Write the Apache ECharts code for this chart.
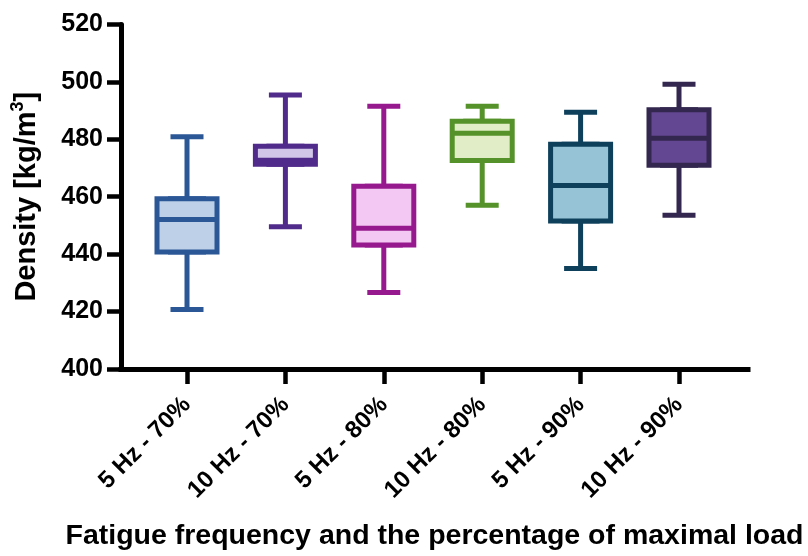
<!DOCTYPE html>
<html>
<head>
<meta charset="utf-8">
<script src="https://cdn.jsdelivr.net/npm/echarts@6/dist/echarts.min.js"></script>
<style>
  html, body { margin: 0; padding: 0; background: #fff; }
  #chart { width: 808px; height: 556px; }
</style>
</head>
<body>
<div id="chart"></div>
<script>
const categories = ["5 Hz - 70%", "10 Hz - 70%", "5 Hz - 80%", "10 Hz - 80%", "5 Hz - 90%", "10 Hz - 90%"];
const lowWhisker = [421, 449.7, 426.9, 457.2, 435.2, 453.7];
const q1 = [441, 471.4, 443.4, 472.7, 451.7, 471.1];
const median = [452.3, 472.8, 449.2, 482.2, 464.1, 480.5];
const q3 = [459.5, 477.7, 463.8, 486.4, 478.4, 490.4];
const highWhisker = [481, 495.5, 491.6, 491.6, 489.5, 499.2];
const yTicks = [400, 420, 440, 460, 480, 500, 520];

const strokeColors = ["#2b5796", "#512b8b", "#961a8e", "#55922a", "#0e405c", "#33274f"];
const fillColors = ["#bed0e8", "#d1c6e7", "#f3c8f2", "#e0edc6", "#96c4d6", "#644792"];

const font = "'Liberation Sans', Arial, Helvetica, sans-serif";

// narrow boxplot: whiskers + short caps
let whiskerData = categories.map((c, i) => ({
	value: [lowWhisker[i], q1[i], median[i], q3[i], highWhisker[i]],
	itemStyle: { color: fillColors[i], borderColor: strokeColors[i], borderWidth: 5 },
}));

// wide boxplot: the box itself, whiskers collapsed onto the box edges
let boxData = categories.map((c, i) => ({
	value: [q1[i], q1[i], median[i], q3[i], q3[i]],
	itemStyle: { color: fillColors[i], borderColor: strokeColors[i], borderWidth: 5 },
}));

let chart = echarts.init(document.getElementById("chart"), null, { renderer: "canvas" });

let catAxis = {
	gridIndex: 1,
	type: "category",
	data: categories,
	axisLine: { show: false },
	splitLine: { show: false },
};

let option = {
	animation: false,
	backgroundColor: "#fff",
	grid: [
		// frame with the axis lines
		{ left: 121, right: 60, top: 24.4, bottom: 186 },
		// boxes
		{ left: 137.8, right: 79.8, top: 24.4, bottom: 186 },
	],
	xAxis: [
		{
			gridIndex: 0,
			type: "value",
			min: 0,
			max: 1,
			axisLine: { show: true, lineStyle: { color: "#000", width: 5, cap: "square" } },
			axisTick: { show: false },
			axisLabel: { show: false },
			splitLine: { show: false },
			name: "Fatigue frequency and the percentage of maximal load",
			nameLocation: "middle",
			nameGap: 153,
			nameTextStyle: { fontFamily: font, fontWeight: "bold", fontSize: 28.5, color: "#000" },
		},
		Object.assign({}, catAxis, {
			axisTick: { show: true, alignWithLabel: true, length: 14, lineStyle: { color: "#000", width: 4.5 } },
			axisLabel: {
				rotate: 45,
				margin: 31,
				interval: 0,
				fontFamily: font,
				fontWeight: "bold",
				fontSize: 24,
				color: "#000",
			},
		}),
		Object.assign({}, catAxis, { show: false }),
	],
	yAxis: [
		{
			gridIndex: 0,
			type: "value",
			min: yTicks[0],
			max: yTicks[yTicks.length - 1],
			interval: 20,
			axisLine: { show: true, lineStyle: { color: "#000", width: 5 } },
			axisTick: { show: true, inside: false, length: 14, lineStyle: { color: "#000", width: 4.5 } },
			axisLabel: { margin: 18, fontFamily: font, fontWeight: "bold", fontSize: 25, color: "#000" },
			splitLine: { show: false },
			name: "Density [kg/m{sup|3}]",
			nameLocation: "middle",
			nameGap: 77,
			nameTextStyle: {
				fontFamily: font,
				fontWeight: "bold",
				fontSize: 29,
				color: "#000",
				rich: {
					sup: { fontFamily: font, fontWeight: "bold", fontSize: 18, color: "#000", verticalAlign: "top", lineHeight: 35 },
				},
			},
		},
		{
			gridIndex: 1,
			type: "value",
			min: yTicks[0],
			max: yTicks[yTicks.length - 1],
			show: false,
		},
	],
	series: [
		{
			type: "boxplot",
			xAxisIndex: 2,
			yAxisIndex: 1,
			boxWidth: [33, 33],
			data: whiskerData,
			emphasis: { disabled: true },
		},
		{
			type: "boxplot",
			xAxisIndex: 1,
			yAxisIndex: 1,
			boxWidth: [60, 60],
			data: boxData,
			emphasis: { disabled: true },
		},
	],
};

chart.setOption(option);
</script>
</body>
</html>
